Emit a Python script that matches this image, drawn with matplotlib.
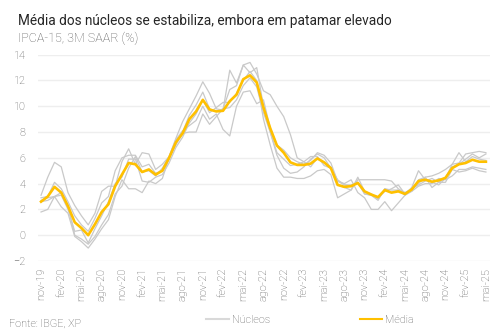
import matplotlib
matplotlib.use("Agg")
import matplotlib.pyplot as plt
import numpy as np

plt.rcParams['font.family'] = ['Roboto', 'DejaVu Sans']

tick_labels = ["nov-19", "fev-20", "mai-20", "ago-20", "nov-20", "fev-21", "mai-21", "ago-21",
               "nov-21", "fev-22", "mai-22", "ago-22", "nov-22", "fev-23", "mai-23", "ago-23",
               "nov-23", "fev-24", "mai-24", "ago-24", "nov-24", "fev-25", "mai-25"]

media = [2.6, 3.0, 3.75, 3.3, 2.25, 1.0, 0.55, 0.0, 0.85, 1.8,
         2.4, 3.8, 4.7, 5.6, 5.5, 4.9, 5.1, 4.7, 5.0, 6.0,
         7.2, 7.9, 9.0, 9.6, 10.5, 9.75, 9.6, 9.65, 10.4, 10.9,
         12.1, 12.4, 11.85, 9.9, 8.3, 6.95, 6.4, 5.65, 5.45, 5.45,
         5.55, 5.95, 5.65, 5.2, 3.9, 3.75, 3.8, 4.05, 3.4, 3.15,
         2.95, 3.5, 3.3, 3.4, 3.2, 3.55, 4.2, 4.3, 4.15, 4.25,
         4.45, 5.2, 5.5, 5.6, 5.85, 5.7, 5.7]

nucleo_a = [3.1, 4.5, 5.65, 5.3, 3.3, 2.3, 1.5, 0.8, 1.7, 3.4, 3.8,
            3.8, 5.7, 6.7, 5.5, 6.4, 6.3, 5.1, 5.5, 6.1, 7.5,
            8.8, 9.8, 10.8, 11.9, 11.0, 9.8, 9.7, 12.8, 11.8, 13.2, 13.4, 12.5,
            11.2, 10.9, 10.0, 9.2, 7.8, 6.0, 5.7, 5.3,
            6.0, 5.6, 5.3, 3.9, 3.7, 3.5, 4.3, 4.3, 4.3, 4.3,
            4.3, 4.2, 3.6, 3.3, 3.6, 4.0, 4.5, 4.6, 4.8, 5.1,
            5.5, 5.6, 6.3, 6.4, 6.5, 6.4]

nucleo_b = [2.9, 3.0, 4.1, 3.6, 2.6, 1.5, 0.8, 0.3, 1.3, 2.5, 3.0,
            5.0, 6.0, 6.2, 6.2, 5.3, 5.5, 4.8, 5.0, 5.9, 7.2,
            8.0, 9.3, 10.1, 11.1, 9.8, 9.6, 9.8, 11.3, 11.6, 13.2, 12.6, 13.0,
            10.0, 8.0, 6.2, 5.2, 4.8, 4.9, 5.3, 5.9,
            6.3, 6.0, 5.2, 4.2, 4.0, 4.3, 3.3, 2.9, 2.0, 2.0,
            2.6, 1.9, 2.5, 3.1, 3.4, 4.3, 4.5, 3.7, 4.1, 4.4,
            5.5, 6.4, 5.7, 6.1, 5.9, 5.8]

nucleo_c = [2.7, 2.9, 3.0, 3.1, 2.0, 0.3, 0.4, -0.6, 0.5, 1.5, 2.6,
            4.0, 4.5, 5.9, 5.9, 4.2, 4.1, 4.5, 4.7, 5.6, 6.8,
            7.6, 8.7, 9.4, 10.5, 9.5, 9.9, 10.3, 10.3, 11.0, 12.0, 12.7, 12.0,
            9.0, 7.0, 5.2, 4.5, 4.5, 4.4, 4.4, 4.6,
            5.0, 5.1, 4.7, 2.9, 3.2, 3.5, 4.5, 3.4, 3.2, 2.9,
            3.4, 3.6, 3.9, 3.2, 3.7, 5.0, 4.3, 4.1, 3.9, 4.4,
            5.3, 5.5, 5.9, 6.3, 6.0, 6.3]

nucleo_d = [2.6, 2.7, 3.0, 3.3, 2.3, 0.0, -0.3, -0.7, -0.1, 0.8, 1.6,
            3.2, 3.8, 5.2, 6.1, 4.9, 5.0, 4.6, 5.2, 6.1, 7.4,
            8.1, 8.5, 8.9, 10.0, 9.0, 9.4, 8.2, 7.7, 10.0, 11.1, 11.2, 10.2,
            10.5, 8.3, 7.0, 6.6, 6.0, 5.7, 5.5, 5.8,
            6.4, 6.2, 5.6, 4.2, 3.9, 3.8, 4.1, 3.2, 3.1, 2.7,
            3.6, 3.3, 3.5, 3.3, 3.4, 3.8, 4.0, 4.0, 4.4, 4.3,
            4.6, 5.1, 5.1, 5.3, 5.2, 5.1]

nucleo_e = [1.8, 2.0, 3.0, 2.2, 1.7, -0.1, -0.5, -1.0, -0.3, 0.5, 1.2,
            3.0, 4.3, 3.6, 3.6, 3.3, 4.2, 4.0, 4.4, 6.0, 7.0,
            7.9, 8.0, 8.0, 9.4, 8.6, 9.2, 9.8, 9.9, 10.5, 11.6, 12.2, 11.5,
            9.5, 8.0, 6.4, 5.9, 5.4, 5.5, 5.7, 6.1,
            6.1, 5.4, 5.2, 4.3, 3.9, 3.9, 4.1, 3.2, 3.1, 2.8,
            3.6, 3.5, 3.5, 3.1, 3.6, 3.9, 4.2, 4.4, 4.1, 4.1,
            5.1, 4.9, 5.0, 5.2, 5.0, 4.9]

nucleos = [nucleo_a, nucleo_b, nucleo_c, nucleo_d, nucleo_e]

GRAY = "#c9c9c9"
GOLD = "#ffc000"
TXT = "#595959"

fig = plt.figure(figsize=(5.02, 3.35), dpi=100)
ax = fig.add_axes([0.0757, 0.221, 0.9003, 0.6157])

x = np.arange(len(media))
for serie in nucleos:
    ax.plot(x, serie, color=GRAY, lw=0.9)
ax.plot(x, media, color=GOLD, lw=1.9)

ax.set_xlim(-0.45, 66.6)
ax.set_ylim(-2, 14)
ax.set_yticks(range(-2, 15, 2))
ax.set_xticks(range(0, len(media), 3))
ax.set_xticklabels(tick_labels, rotation=90, fontsize=7.8, color=TXT, fontweight="light")
ax.tick_params(axis='y', labelsize=7.8, labelcolor=TXT, length=0, pad=9)
ax.tick_params(axis='x', length=0, pad=5)
for lab in ax.get_yticklabels():
    lab.set_fontweight("light")
ax.grid(axis='y', color="#eeeeee", lw=1)
ax.set_axisbelow(True)
for s in ax.spines.values():
    s.set_visible(False)

fig.text(0.036, 0.925, "Média dos núcleos se estabiliza, embora em patamar elevado",
         fontsize=9.8, color="#262626")
fig.text(0.036, 0.876, "IPCA-15, 3M SAAR (%)", fontsize=9, color=TXT, fontweight="light")
fig.text(0.018, 0.024, "Fonte: IBGE, XP", fontsize=7.8, color=TXT, fontweight="light")

h1, = ax.plot([], [], color="#d9d9d9", lw=1.5, label="Núcleos")
h2, = ax.plot([], [], color=GOLD, lw=1.5, label="Média")
leg = fig.legend(handles=[h1, h2], ncol=2, loc='center', bbox_to_anchor=(0.6175, 0.045),
                 frameon=False, fontsize=7.8, handlelength=2.1, handletextpad=0.25,
                 columnspacing=8.3)
for t in leg.get_texts():
    t.set_color(TXT)
    t.set_fontweight("light")

fig.savefig("out.png", dpi=100)
